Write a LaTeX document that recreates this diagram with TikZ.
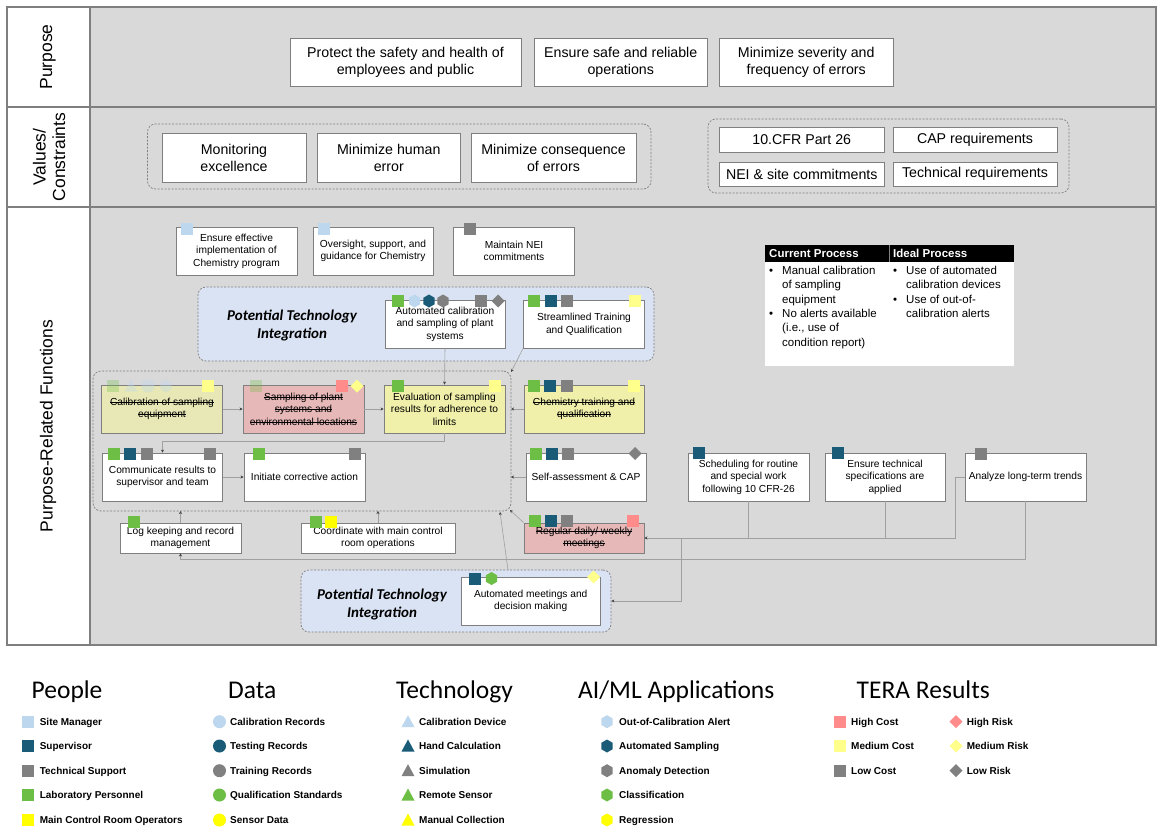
\documentclass[tikz,border=0pt]{standalone}
\usepackage{fontspec}
\setmainfont{Liberation Sans}
\newfontfamily\carl{Carlito}
\usetikzlibrary{arrows.meta}
\definecolor{bg}{HTML}{D9D9D9}
\definecolor{bordergray}{HTML}{7F7F7F}
\definecolor{sitemgr}{HTML}{BDD7EE}
\definecolor{superv}{HTML}{1A5C78}
\definecolor{techsup}{HTML}{808080}
\definecolor{labp}{HTML}{6DBE45}
\definecolor{mcro}{HTML}{FFFF00}
\definecolor{hicost}{HTML}{FF8B8B}
\definecolor{medcost}{HTML}{FFFF8C}
\definecolor{ptifill}{HTML}{DAE3F3}
\definecolor{yelbox}{HTML}{F0F0AA}
\definecolor{calbox}{HTML}{E8E8B6}
\definecolor{pinkbox}{HTML}{E6B8B7}
\definecolor{lncol}{HTML}{A0A0A0}
\newcommand\strk[1]{\sbox0{#1}\rlap{\rule[0.3em]{\wd0}{0.45pt}}\usebox0}
\newcommand\icSq[3]{\fill[#1,shift={(#2,#3)}] (-6,-6) rectangle (6,6);}
\newcommand\icHex[3]{\fill[#1,shift={(#2,#3)}] (0,-6.5) -- (5.6,-3.25) -- (5.6,3.25) -- (0,6.5) -- (-5.6,3.25) -- (-5.6,-3.25) -- cycle;}
\newcommand\icDia[3]{\fill[#1,shift={(#2,#3)}] (0,-6.5) -- (6.5,0) -- (0,6.5) -- (-6.5,0) -- cycle;}
\newcommand\icTri[3]{\fill[#1,shift={(#2,#3)}] (-6.5,5.5) -- (6.5,5.5) -- (0,-6.5) -- cycle;}
\newcommand\icCir[3]{\fill[#1] (#2,#3) circle[radius=6.5];}
\tikzset{
 bigbox/.style={draw=bordergray, line width=0.9pt, fill=white, align=center, inner sep=2pt, font=\fontsize{14.2}{17}\selectfont},
 funcbox/.style={draw=bordergray, line width=0.9pt, fill=white, align=center, inner sep=1pt, font=\fontsize{10.2}{12.6}\selectfont},
 grp/.style={draw=bordergray, dash pattern=on 2pt off 1.5pt, line width=0.7pt, rounded corners=8pt},
 ptigrp/.style={grp, fill=ptifill},
 ptilabel/.style={align=center, font=\carl\bfseries\itshape\fontsize{15}{18}\selectfont},
 conn/.style={draw=lncol, line width=0.6pt, -{Stealth[length=3pt,width=3pt,color=black!75]}},
 plainln/.style={draw=lncol, line width=0.6pt},
 sidelabel/.style={rotate=90, align=center, font=\fontsize{17.5}{19.5}\selectfont},
 leghead/.style={anchor=base west, inner sep=0, font=\carl\fontsize{25.5}{29}\selectfont},
 legitem/.style={anchor=base west, inner sep=0, font=\bfseries\fontsize{10}{12}\selectfont},
 tabtext/.style={anchor=north west, align=left, inner sep=0, font=\fontsize{11.5}{14.3}\selectfont},
}
\newcommand\bul{\makebox[13pt][l]{\textbullet}}
\newcommand\ind{\hspace*{13pt}}
\begin{document}
\begin{tikzpicture}[x=1pt,y=-1pt]
\useasboundingbox (0,0) rectangle (1159,827);
\fill[white] (0,0) rectangle (1159,827);
% frame
\fill[bg] (90,7) rectangle (1156,645);
\draw[bordergray, line width=1.2pt] (7,7) rectangle (1156,645);
\draw[bordergray, line width=1.2pt] (90,7) -- (90,645);
\draw[bordergray, line width=1.2pt] (7,107) -- (1156,107);
\draw[bordergray, line width=1.2pt] (7,207) -- (1156,207);
\node[sidelabel] (lpurp) at (48,57) {Purpose};
\node[sidelabel] (lval) at (49,157) {Values/\\Constraints};
\node[sidelabel] (lfun) at (48,426) {Purpose-Related Functions};
% purpose
\node[bigbox, minimum width=231pt, minimum height=48pt] (p1) at (405.5,62) {Protect the safety and health of\\employees and public};
\node[bigbox, minimum width=172.5pt, minimum height=48pt] (p2) at (620.75,62) {Ensure safe and reliable\\operations};
\node[bigbox, minimum width=173.5pt, minimum height=48pt] (p3) at (806.25,62) {Minimize severity and\\frequency of errors};
% values
\node[grp, minimum width=503.5pt, minimum height=65pt] (vgrp) at (399.25,156.5) {};
\node[grp, minimum width=361pt, minimum height=74pt] (cgrp) at (888.5,156) {};
\node[bigbox, minimum width=144pt, minimum height=49pt] (v1) at (234,157.5) {Monitoring\\excellence};
\node[bigbox, minimum width=143.5pt, minimum height=49pt] (v2) at (388.75,157.5) {Minimize human\\error};
\node[bigbox, minimum width=165pt, minimum height=49pt] (v3) at (553.5,157.5) {Minimize consequence\\of errors};
\node[bigbox, minimum width=164.5pt, minimum height=25pt] (c1) at (801.75,139.5) {10.CFR Part 26};
\node[bigbox, minimum width=164pt, minimum height=25pt] (c2) at (975,139.5) {CAP requirements};
\node[bigbox, minimum width=164.5pt, minimum height=24pt] (c3) at (801.75,174) {NEI \& site commitments};
\node[bigbox, minimum width=164pt, minimum height=24pt] (c4) at (975,174) {Technical requirements};
% groups in functions
\node[ptigrp, minimum width=456pt, minimum height=74pt] (pti1) at (426,324) {};
\node[grp, minimum width=418pt, minimum height=140pt] (g2) at (302,441) {};
\node[ptigrp, minimum width=310pt, minimum height=62pt] (pti2) at (456,601) {};
\node[ptilabel] (pl1) at (292,325) {Potential Technology\\Integration};
\node[ptilabel] (pl2) at (382,604) {Potential Technology\\Integration};
% top function boxes
\node[funcbox, minimum width=121pt, minimum height=48pt] (f1) at (236.5,251) {Ensure effective\\implementation of\\Chemistry program};
\node[funcbox, minimum width=120pt, minimum height=48pt] (f2) at (373,251) {Oversight, support, and\\guidance for Chemistry};
\node[funcbox, minimum width=121pt, minimum height=48pt] (f3) at (514,251) {Maintain NEI\\commitments};
\node[funcbox, minimum width=120pt, minimum height=48pt] (a1) at (445,324) {Automated calibration\\and sampling of plant\\systems};
\node[funcbox, minimum width=121pt, minimum height=48pt] (a2) at (584,324) {Streamlined Training\\and Qualification};
% row 1
\node[funcbox, fill=calbox, minimum width=121pt, minimum height=48pt] (b1) at (162,409) {\strk{Calibration of sampling}\\\strk{equipment}};
\node[funcbox, fill=pinkbox, minimum width=121pt, minimum height=48pt] (b2) at (303.5,409) {\strk{Sampling of plant}\\\strk{systems and}\\\strk{environmental locations}};
\node[funcbox, fill=yelbox, minimum width=121pt, minimum height=48pt] (b3) at (444.5,409) {Evaluation of sampling\\results for adherence to\\limits};
\node[funcbox, fill=yelbox, minimum width=120pt, minimum height=48pt] (b4) at (584,409) {\strk{Chemistry training and}\\\strk{qualification}};
% row 2
\node[funcbox, minimum width=120pt, minimum height=48pt] (b5) at (162.5,477) {Communicate results to\\supervisor and team};
\node[funcbox, minimum width=121pt, minimum height=48pt] (b6) at (304.5,477) {Initiate corrective action};
\node[funcbox, minimum width=120pt, minimum height=48pt] (b7) at (586,477) {Self-assessment \& CAP};
\node[funcbox, minimum width=121pt, minimum height=48pt] (sc) at (748.5,477) {Scheduling for routine\\and special work\\following 10 CFR-26};
\node[funcbox, minimum width=120pt, minimum height=48pt] (et) at (885,477) {Ensure technical\\specifications are\\applied};
\node[funcbox, minimum width=121pt, minimum height=48pt] (an) at (1025.5,477) {Analyze long-term trends};
% row 3
\node[funcbox, minimum width=121pt, minimum height=30pt] (lk) at (180.5,538) {Log keeping and record\\management};
\node[funcbox, minimum width=154pt, minimum height=30pt] (cm) at (378,538) {Coordinate with main control\\room operations};
\node[funcbox, fill=pinkbox, minimum width=120pt, minimum height=30pt] (b8) at (584,538) {\strk{Regular daily/ weekly}\\\strk{meetings}};
\node[funcbox, minimum width=139pt, minimum height=48pt] (a3) at (530.7,601) {Automated meetings and\\decision making};
% icons
\icSq{sitemgr}{187}{228.5}
\icSq{sitemgr}{324}{228.5}
\icSq{techsup}{469.5}{228.5}
\icSq{labp}{398}{301}\icHex{sitemgr}{414.6}{301}\icHex{superv}{429}{301}\icHex{techsup}{443}{301}\icSq{techsup}{481}{301}\icDia{techsup}{498}{301}
\icSq{labp}{534}{301}\icSq{superv}{551}{301}\icSq{techsup}{567}{301}\icSq{medcost}{635}{301}
\icSq{labp,opacity=0.3}{113}{386}\icTri{sitemgr,opacity=0.35}{131}{386}\icCir{sitemgr,opacity=0.35}{148}{386}\icHex{sitemgr,opacity=0.35}{166}{386}\icSq{medcost}{208}{386}
\icSq{labp,opacity=0.3}{256}{386}\icSq{hicost}{342}{386}\icDia{medcost}{357}{386}
\icSq{labp}{398}{386}\icSq{medcost}{495}{386}
\icSq{labp}{534}{386}\icSq{superv}{550}{386}\icSq{techsup}{566.5}{386}\icSq{medcost}{634}{386}
\icSq{labp}{114}{453.5}\icSq{superv}{130}{453.5}\icSq{techsup}{147}{453.5}\icSq{techsup}{210}{453.5}
\icSq{labp}{259}{453.5}\icSq{techsup}{355}{453.5}
\icSq{labp}{536}{453.5}\icSq{superv}{552}{453.5}\icSq{techsup}{568}{453.5}\icDia{techsup}{635}{453.5}
\icSq{superv}{698.5}{452.5}
\icSq{superv}{838}{452.5}
\icSq{techsup}{981}{454}
\icSq{labp}{535}{521}\icSq{superv}{551}{521}\icSq{techsup}{567}{521}\icSq{hicost}{633}{521}
\icSq{labp}{133.5}{522}
\icSq{labp}{315.5}{522}\icSq{mcro}{331}{522}
\icSq{superv}{475}{578.5}\icHex{labp}{491.5}{578.5}\icDia{medcost}{593.5}{577}
% connectors
\coordinate (g2ne) at (511,372);
\coordinate (g2e1) at (511,409);
\coordinate (g2e2) at (511,477);
\coordinate (g2se) at (510,510);
\coordinate (g2b1) at (180.5,511);
\coordinate (g2b2) at (378,511);
\coordinate (g2b3) at (500,512);
\coordinate (pti2n) at (508,570);
\coordinate (j1) at (955,538);
\coordinate (j2) at (681,538);
\coordinate (j3) at (1025.5,559);
\draw[conn] (a1.south) -- (b3.north);
\draw[conn] (a2.south west) -- (g2ne);
\draw[conn] (b1) -- (b2);
\draw[conn] (b2) -- (b3);
\draw[conn] (b4.west) -- (g2e1);
\draw[conn] (b3.south) -- ++(0,8) -| (b5.north);
\draw[conn] (b5) -- (b6);
\draw[conn] (b7.west) -- (g2e2);
\draw[conn] (b8.north west) -- (g2se);
\draw[conn] (lk.north) -- (g2b1);
\draw[conn] (cm.north) -- (g2b2);
\draw[conn] (pti2n) -- (g2b3);
\draw[plainln] (sc.south) -- (sc.south |- j1);
\draw[plainln] (et.south) -- (et.south |- j1);
\draw[conn] (an.west) -| (j1) -- (b8.east);
\draw[conn] (j2) |- (pti2.east);
\draw[conn] (an.south) -- (j3) -| (lk.south);
% table
\node[fill=white, minimum width=249pt, minimum height=104pt, anchor=north west, inner sep=0] (tbody) at (765,262) {};
\node[fill=black, minimum width=249pt, minimum height=17pt, anchor=north west, inner sep=0] (thead) at (765,245) {};
\draw[gray, line width=1pt] (889,245) -- (889,262);
\node[anchor=west, text=white, inner sep=0, font=\bfseries\fontsize{11.5}{13}\selectfont] (th1) at (769,253.5) {Current Process};
\node[anchor=west, text=white, inner sep=0, font=\bfseries\fontsize{11.5}{13}\selectfont] (th2) at (893,253.5) {Ideal Process};
\node[tabtext] (tc1) at (769,266) {\bul Manual calibration\\\ind of sampling\\\ind equipment\\\bul No alerts available\\\ind (i.e., use of\\\ind condition report)};
\node[tabtext] (tc2) at (893,266) {\bul Use of automated\\\ind calibration devices\\\bul Use of out-of-\\\ind calibration alerts};
% legend
\node[leghead] (hpeople) at (31.5,698) {People};
\node[leghead] (hdata) at (228,698) {Data};
\node[leghead] (htech) at (396,698) {Technology};
\node[leghead] (hai) at (578,698) {AI/ML Applications};
\node[leghead] (htera) at (856.5,698) {TERA Results};
\icSq{sitemgr}{28}{721.7}\node[legitem] (lp1) at (39.6,725.3) {Site Manager};
\icSq{superv}{28}{746}\node[legitem] (lp2) at (39.6,749.6) {Supervisor};
\icSq{techsup}{28}{770.7}\node[legitem] (lp3) at (39.6,774.3) {Technical Support};
\icSq{labp}{28}{795}\node[legitem] (lp4) at (39.6,798.6) {Laboratory Personnel};
\icSq{mcro}{28}{820}\node[legitem] (lp5) at (39.6,823.6) {Main Control Room Operators};
\icCir{sitemgr}{219.5}{721.7}\node[legitem] (ld1) at (230,725.3) {Calibration Records};
\icCir{superv}{219.5}{746}\node[legitem] (ld2) at (230,749.6) {Testing Records};
\icCir{techsup}{219.5}{770.7}\node[legitem] (ld3) at (230,774.3) {Training Records};
\icCir{labp}{219.5}{795}\node[legitem] (ld4) at (230,798.6) {Qualification Standards};
\icCir{mcro}{219.5}{820}\node[legitem] (ld5) at (230,823.6) {Sensor Data};
\icTri{sitemgr}{408}{721.7}\node[legitem] (lt1) at (419,725.3) {Calibration Device};
\icTri{superv}{408}{746}\node[legitem] (lt2) at (419,749.6) {Hand Calculation};
\icTri{techsup}{408}{770.7}\node[legitem] (lt3) at (419,774.3) {Simulation};
\icTri{labp}{408}{795}\node[legitem] (lt4) at (419,798.6) {Remote Sensor};
\icTri{mcro}{408}{820}\node[legitem] (lt5) at (419,823.6) {Manual Collection};
\icHex{sitemgr}{607}{721.7}\node[legitem] (la1) at (619,725.3) {Out-of-Calibration Alert};
\icHex{superv}{607}{746}\node[legitem] (la2) at (619,749.6) {Automated Sampling};
\icHex{techsup}{607}{770.7}\node[legitem] (la3) at (619,774.3) {Anomaly Detection};
\icHex{labp}{607}{795}\node[legitem] (la4) at (619,798.6) {Classification};
\icHex{mcro}{607}{820}\node[legitem] (la5) at (619,823.6) {Regression};
\icSq{hicost}{839.5}{721.7}\node[legitem] (lr1) at (851,725.3) {High Cost};
\icSq{medcost}{839.5}{746}\node[legitem] (lr2) at (851,749.6) {Medium Cost};
\icSq{techsup}{839.5}{770.7}\node[legitem] (lr3) at (851,774.3) {Low Cost};
\icDia{hicost}{956}{721.7}\node[legitem] (lr4) at (966.6,725.3) {High Risk};
\icDia{medcost}{956}{746}\node[legitem] (lr5) at (966.6,749.6) {Medium Risk};
\icDia{techsup}{956}{770.7}\node[legitem] (lr6) at (966.6,774.3) {Low Risk};
\end{tikzpicture}
\end{document}
